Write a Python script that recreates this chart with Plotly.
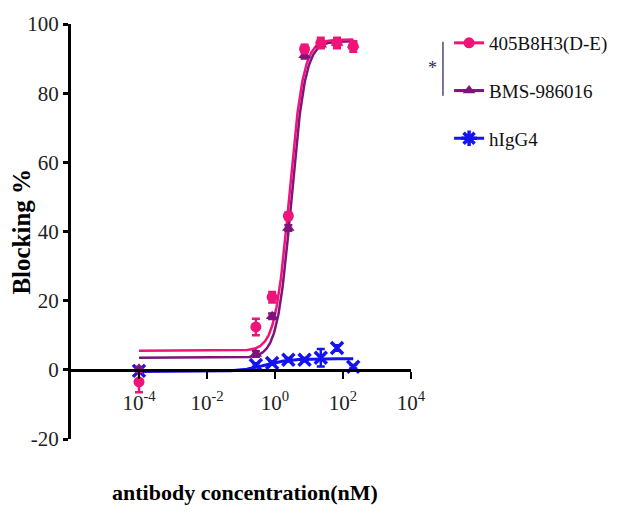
import numpy as np
import plotly.graph_objects as go

# ---- data ----
conc = [0.0001, 0.274, 0.823, 2.47, 7.41, 22.2, 66.7, 200.0]

ab405_y = [-3.5, 12.4, 21.0, 44.5, 92.8, 94.5, 94.5, 93.5]
ab405_err = [3.0, 2.4, 1.5, 1.0, 1.2, 1.5, 1.5, 1.5]

bms_y = [0.3, 4.6, 15.5, 41.0, 91.0, 94.0, 94.5, 94.0]
bms_err = [0.5, 0.8, 0.8, 0.8, 1.0, 0.8, 0.8, 0.8]

igg4_y = [-0.3, 1.4, 2.0, 2.9, 2.9, 3.5, 6.3, 0.9]
igg4_err = [0.5, 0.5, 0.5, 0.5, 0.5, 2.5, 0.8, 0.5]

# 4-parameter logistic fit parameters (bottom, top, logEC50, hill)
fit_405 = [5.5, 95.5, 0.42, 2.1]
fit_bms = [3.5, 95.0, 0.48, 2.1]
fit_igg4 = [-0.5, 3.2, -0.3, 1.2]

names = ["405B8H3(D-E)", "BMS-986016", "hIgG4"]
colors = ["#F01478", "#7E137E", "#1414F0"]

xtick_vals = [1e-4, 1e-2, 1e0, 1e2, 1e4]
xtick_text = ["10<sup>-4</sup>", "10<sup>-2</sup>", "10<sup>0</sup>", "10<sup>2</sup>", "10<sup>4</sup>"]
ytick_vals = [-20, 0, 20, 40, 60, 80, 100]
ytick_text = ["-20", "0", "20", "40", "60", "80", "100"]

FONT = "Liberation Serif"


def four_pl(x, p):
    b, t, lec, h = p
    return b + (t - b) / (1 + 10 ** ((lec - np.log10(x)) * h))


xfit = np.logspace(np.log10(conc[0]), np.log10(conc[-1]), 400)

fig = go.Figure()

# fitted curves
for p, c, w in [(fit_igg4, colors[2], 3), (fit_bms, colors[1], 2.5), (fit_405, colors[0], 2.5)]:
    fig.add_trace(go.Scatter(x=xfit, y=four_pl(xfit, p), mode="lines",
                             line=dict(color=c, width=w), showlegend=False,
                             hoverinfo="skip"))

# data points
fig.add_trace(go.Scatter(x=conc, y=igg4_y, mode="markers", showlegend=False,
                         error_y=dict(type="data", array=igg4_err, color=colors[2], thickness=2.5, width=4),
                         marker=dict(symbol="x-thin-open", size=12, color=colors[2],
                                     line=dict(color=colors[2], width=3.5))))
fig.add_trace(go.Scatter(x=conc, y=bms_y, mode="markers", showlegend=False,
                         error_y=dict(type="data", array=bms_err, color=colors[1], thickness=2.5, width=4),
                         marker=dict(symbol="triangle-up", size=11, color=colors[1])))
fig.add_trace(go.Scatter(x=conc, y=ab405_y, mode="markers", showlegend=False,
                         error_y=dict(type="data", array=ab405_err, color=colors[0], thickness=2.5, width=4),
                         marker=dict(symbol="circle", size=11, color=colors[0])))

# legend entries
leg_symbols = ["circle", "triangle-up", "asterisk-open"]
for i, (n, c, s) in enumerate(zip(names, colors, leg_symbols)):
    fig.add_trace(go.Scatter(x=[None], y=[None], mode="lines+markers", name=n,
                             legendgroup=n,
                             line=dict(color=c, width=3),
                             marker=dict(symbol=s, size=13 if s == "asterisk-open" else 11, color=c,
                                         line=dict(color=c, width=3.5 if s == "asterisk-open" else 0))))

# page body has an 8px margin, so the figure is 8px smaller and margins shifted
fig.update_layout(
    width=609, height=505,
    margin=dict(l=63, r=206, t=16, b=74, autoexpand=False),
    paper_bgcolor="white", plot_bgcolor="white",
    font=dict(family=FONT, color="#111", size=20),
    showlegend=True,
    legend=dict(x=1.112, y=1.0, xanchor="left", yanchor="top",
                font=dict(family=FONT, size=19, color="#111"),
                tracegroupgap=20, itemwidth=30, traceorder="grouped",
                bgcolor="rgba(0,0,0,0)"),
    xaxis=dict(type="log", range=[-6, 4], anchor="free", position=20 / 120,
               showline=True, linecolor="black", linewidth=2.5, automargin=False,
               ticks="outside", ticklen=7, tickwidth=2, tickcolor="black",
               tickvals=xtick_vals, ticktext=xtick_text,
               tickfont=dict(family=FONT, size=21, color="#222"),
               showgrid=False, zeroline=False, ticklabelstandoff=6),
    yaxis=dict(range=[-20, 100], domain=[0, 1], automargin=False,
               showline=True, linecolor="black", linewidth=3,
               ticks="outside", ticklen=5, tickwidth=2.5, tickcolor="black",
               tickvals=ytick_vals, ticktext=ytick_text,
               tickfont=dict(family=FONT, size=21, color="#222"),
               showgrid=False, zeroline=False),
    annotations=[
        dict(text="<b>antibody concentration(nM)</b>", xref="paper", yref="paper",
             x=0.512, y=-0.13, xanchor="center", yanchor="middle", showarrow=False,
             font=dict(family=FONT, size=22, color="black")),
        dict(text="<b>Blocking %</b>", xref="paper", yref="paper",
             x=-0.145, y=0.499, xanchor="center", yanchor="middle", showarrow=False,
             textangle=-90, font=dict(family=FONT, size=25, color="black")),
        dict(text="*", xref="paper", yref="paper", x=1.062, y=0.895,
             xanchor="center", yanchor="middle", showarrow=False,
             font=dict(family=FONT, size=18, color="#2a2a50")),
    ],
    shapes=[
        dict(type="line", xref="paper", yref="paper", x0=1.094, x1=1.094, y0=0.827, y1=0.957,
             line=dict(color="#4a4a7a", width=1.5)),
    ],
)

fig.write_html("out.html")
